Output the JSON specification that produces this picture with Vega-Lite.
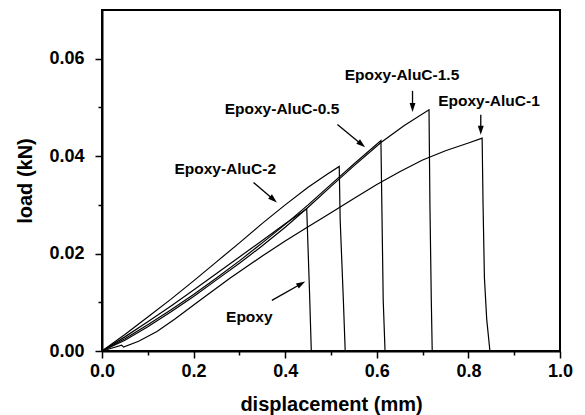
{
  "$schema": "https://vega.github.io/schema/vega-lite/v6.json",
  "width": 458,
  "height": 341,
  "autosize": "none",
  "padding": {"left": 102, "top": 10, "right": 25, "bottom": 64},
  "background": "white",
  "config": {
    "font": "Liberation Sans",
    "view": {"stroke": "black", "strokeWidth": 2},
    "axis": {
      "grid": false,
      "domainColor": "black",
      "domainWidth": 2,
      "tickColor": "black",
      "tickWidth": 1.5,
      "labelColor": "black",
      "titleColor": "black",
      "labelFont": "Liberation Sans",
      "titleFont": "Liberation Sans",
      "labelFontWeight": "bold",
      "titleFontWeight": "bold"
    }
  },
  "datasets": {
    "curves": [
      {"sample": "Epoxy", "displacement": 0, "load": 0},
      {"sample": "Epoxy", "displacement": 0.05, "load": 0.0029},
      {"sample": "Epoxy", "displacement": 0.1, "load": 0.006},
      {"sample": "Epoxy", "displacement": 0.15, "load": 0.0092},
      {"sample": "Epoxy", "displacement": 0.2, "load": 0.0125},
      {"sample": "Epoxy", "displacement": 0.25, "load": 0.0159},
      {"sample": "Epoxy", "displacement": 0.3, "load": 0.0193},
      {"sample": "Epoxy", "displacement": 0.35, "load": 0.0227},
      {"sample": "Epoxy", "displacement": 0.4, "load": 0.0261},
      {"sample": "Epoxy", "displacement": 0.447, "load": 0.0292},
      {"sample": "Epoxy", "displacement": 0.453, "load": 0.0124},
      {"sample": "Epoxy", "displacement": 0.457, "load": 0},

      {"sample": "Epoxy-AluC-2", "displacement": 0, "load": 0},
      {"sample": "Epoxy-AluC-2", "displacement": 0.05, "load": 0.0034},
      {"sample": "Epoxy-AluC-2", "displacement": 0.1, "load": 0.007},
      {"sample": "Epoxy-AluC-2", "displacement": 0.15, "load": 0.0106},
      {"sample": "Epoxy-AluC-2", "displacement": 0.2, "load": 0.0144},
      {"sample": "Epoxy-AluC-2", "displacement": 0.25, "load": 0.0183},
      {"sample": "Epoxy-AluC-2", "displacement": 0.3, "load": 0.0222},
      {"sample": "Epoxy-AluC-2", "displacement": 0.35, "load": 0.0262},
      {"sample": "Epoxy-AluC-2", "displacement": 0.4, "load": 0.03},
      {"sample": "Epoxy-AluC-2", "displacement": 0.45, "load": 0.0336},
      {"sample": "Epoxy-AluC-2", "displacement": 0.49, "load": 0.0362},
      {"sample": "Epoxy-AluC-2", "displacement": 0.518, "load": 0.0379},
      {"sample": "Epoxy-AluC-2", "displacement": 0.52, "load": 0.027},
      {"sample": "Epoxy-AluC-2", "displacement": 0.527, "load": 0.0104},
      {"sample": "Epoxy-AluC-2", "displacement": 0.531, "load": 0},

      {"sample": "Epoxy-AluC-0.5", "displacement": 0, "load": 0},
      {"sample": "Epoxy-AluC-0.5", "displacement": 0.05, "load": 0.0025},
      {"sample": "Epoxy-AluC-0.5", "displacement": 0.1, "load": 0.0054},
      {"sample": "Epoxy-AluC-0.5", "displacement": 0.15, "load": 0.0084},
      {"sample": "Epoxy-AluC-0.5", "displacement": 0.2, "load": 0.0116},
      {"sample": "Epoxy-AluC-0.5", "displacement": 0.25, "load": 0.015},
      {"sample": "Epoxy-AluC-0.5", "displacement": 0.3, "load": 0.0185},
      {"sample": "Epoxy-AluC-0.5", "displacement": 0.35, "load": 0.0222},
      {"sample": "Epoxy-AluC-0.5", "displacement": 0.4, "load": 0.026},
      {"sample": "Epoxy-AluC-0.5", "displacement": 0.45, "load": 0.03},
      {"sample": "Epoxy-AluC-0.5", "displacement": 0.5, "load": 0.0342},
      {"sample": "Epoxy-AluC-0.5", "displacement": 0.55, "load": 0.0384},
      {"sample": "Epoxy-AluC-0.5", "displacement": 0.609, "load": 0.0432},
      {"sample": "Epoxy-AluC-0.5", "displacement": 0.614, "load": 0.0104},
      {"sample": "Epoxy-AluC-0.5", "displacement": 0.618, "load": 0},

      {"sample": "Epoxy-AluC-1.5", "displacement": 0, "load": 0},
      {"sample": "Epoxy-AluC-1.5", "displacement": 0.05, "load": 0.0022},
      {"sample": "Epoxy-AluC-1.5", "displacement": 0.1, "load": 0.005},
      {"sample": "Epoxy-AluC-1.5", "displacement": 0.15, "load": 0.008},
      {"sample": "Epoxy-AluC-1.5", "displacement": 0.2, "load": 0.0112},
      {"sample": "Epoxy-AluC-1.5", "displacement": 0.25, "load": 0.0146},
      {"sample": "Epoxy-AluC-1.5", "displacement": 0.3, "load": 0.018},
      {"sample": "Epoxy-AluC-1.5", "displacement": 0.35, "load": 0.0216},
      {"sample": "Epoxy-AluC-1.5", "displacement": 0.4, "load": 0.0254},
      {"sample": "Epoxy-AluC-1.5", "displacement": 0.45, "load": 0.0295},
      {"sample": "Epoxy-AluC-1.5", "displacement": 0.5, "load": 0.0338},
      {"sample": "Epoxy-AluC-1.5", "displacement": 0.55, "load": 0.038},
      {"sample": "Epoxy-AluC-1.5", "displacement": 0.609, "load": 0.0428},
      {"sample": "Epoxy-AluC-1.5", "displacement": 0.66, "load": 0.0463},
      {"sample": "Epoxy-AluC-1.5", "displacement": 0.714, "load": 0.0495},
      {"sample": "Epoxy-AluC-1.5", "displacement": 0.716, "load": 0.03},
      {"sample": "Epoxy-AluC-1.5", "displacement": 0.719, "load": 0.0104},
      {"sample": "Epoxy-AluC-1.5", "displacement": 0.721, "load": 0},

      {"sample": "Epoxy-AluC-1", "displacement": 0, "load": 0},
      {"sample": "Epoxy-AluC-1", "displacement": 0.043, "load": 0.0012},
      {"sample": "Epoxy-AluC-1", "displacement": 0.047, "load": 0.0008},
      {"sample": "Epoxy-AluC-1", "displacement": 0.08, "load": 0.002},
      {"sample": "Epoxy-AluC-1", "displacement": 0.12, "load": 0.004},
      {"sample": "Epoxy-AluC-1", "displacement": 0.16, "load": 0.0066},
      {"sample": "Epoxy-AluC-1", "displacement": 0.214, "load": 0.0104},
      {"sample": "Epoxy-AluC-1", "displacement": 0.28, "load": 0.015},
      {"sample": "Epoxy-AluC-1", "displacement": 0.35, "load": 0.0195},
      {"sample": "Epoxy-AluC-1", "displacement": 0.4, "load": 0.0226},
      {"sample": "Epoxy-AluC-1", "displacement": 0.45, "load": 0.0255},
      {"sample": "Epoxy-AluC-1", "displacement": 0.5, "load": 0.0284},
      {"sample": "Epoxy-AluC-1", "displacement": 0.55, "load": 0.0313},
      {"sample": "Epoxy-AluC-1", "displacement": 0.6, "load": 0.0342},
      {"sample": "Epoxy-AluC-1", "displacement": 0.65, "load": 0.0368},
      {"sample": "Epoxy-AluC-1", "displacement": 0.7, "load": 0.0392},
      {"sample": "Epoxy-AluC-1", "displacement": 0.75, "load": 0.0411},
      {"sample": "Epoxy-AluC-1", "displacement": 0.8, "load": 0.0427},
      {"sample": "Epoxy-AluC-1", "displacement": 0.83, "load": 0.0437},
      {"sample": "Epoxy-AluC-1", "displacement": 0.832, "load": 0.03},
      {"sample": "Epoxy-AluC-1", "displacement": 0.835, "load": 0.015},
      {"sample": "Epoxy-AluC-1", "displacement": 0.84, "load": 0.0065},
      {"sample": "Epoxy-AluC-1", "displacement": 0.847, "load": 0}
    ],
    "notes": [
      {"label": "Epoxy-AluC-1.5", "x": 0.655, "y": 0.0567},
      {"label": "Epoxy-AluC-1", "x": 0.845, "y": 0.0514},
      {"label": "Epoxy-AluC-0.5", "x": 0.393, "y": 0.0496},
      {"label": "Epoxy-AluC-2", "x": 0.269, "y": 0.0374},
      {"label": "Epoxy", "x": 0.3216, "y": 0.007}
    ],
    "arrows": [
      {"label": "Epoxy-AluC-1.5", "x0": 0.678, "y0": 0.0534, "x1": 0.678, "y1": 0.05, "angle": 180},
      {"label": "Epoxy-AluC-1", "x0": 0.827, "y0": 0.0485, "x1": 0.827, "y1": 0.0453, "angle": 180},
      {"label": "Epoxy-AluC-0.5", "x0": 0.514, "y0": 0.0465, "x1": 0.5669, "y1": 0.0424, "angle": 129.3},
      {"label": "Epoxy-AluC-2", "x0": 0.3308, "y0": 0.0346, "x1": 0.3744, "y1": 0.0311, "angle": 130.5},
      {"label": "Epoxy", "x0": 0.3709, "y0": 0.0104, "x1": 0.4351, "y1": 0.0138, "angle": 60.3}
    ]
  },
  "resolve": {"axis": {"x": "independent", "y": "independent"}},
  "layer": [
    {
      "data": {"name": "curves"},
      "mark": {"type": "line", "stroke": "black", "strokeWidth": 1.2, "strokeJoin": "miter"},
      "encoding": {
        "x": {
          "field": "displacement", "type": "quantitative",
          "scale": {"domain": [0, 1], "nice": false, "zero": false},
          "axis": {
            "orient": "bottom",
            "values": [0, 0.2, 0.4, 0.6, 0.8, 1.0],
            "format": ".1f",
            "tickSize": 7,
            "labelFontSize": 18,
            "labelPadding": 4,
            "labelFlush": false,
            "title": "displacement (mm)",
            "titleFontSize": 20,
            "titleBaseline": "alphabetic",
            "titleAnchor": "middle",
            "titleX": 229,
            "titleY": 59
          }
        },
        "y": {
          "field": "load", "type": "quantitative",
          "scale": {"domain": [0, 0.07], "nice": false, "zero": false},
          "axis": {
            "orient": "left",
            "values": [0, 0.02, 0.04, 0.06],
            "format": ".2f",
            "tickSize": 7,
            "labelFontSize": 18,
            "labelPadding": 11,
            "labelFlush": false,
            "title": "load (kN)",
            "titleFontSize": 20,
            "titleAngle": -90,
            "titleAlign": "center",
            "titleBaseline": "middle",
            "titleX": -77,
            "titleY": 170.5
          }
        },
        "detail": {"field": "sample"}
      }
    },
    {
      "data": {"name": "curves"},
      "mark": {"type": "point", "opacity": 0},
      "encoding": {
        "x": {
          "field": "displacement", "type": "quantitative",
          "scale": {"domain": [0, 1], "nice": false, "zero": false},
          "axis": {
            "orient": "bottom",
            "values": [0.1, 0.3, 0.5, 0.7, 0.9],
            "tickSize": 4,
            "labels": false,
            "domain": false,
            "title": null
          }
        },
        "y": {
          "field": "load", "type": "quantitative",
          "scale": {"domain": [0, 0.07], "nice": false, "zero": false},
          "axis": {
            "orient": "left",
            "values": [0.01, 0.03, 0.05],
            "tickSize": 4,
            "labels": false,
            "domain": false,
            "title": null
          }
        }
      }
    },
    {
      "data": {"name": "arrows"},
      "mark": {"type": "rule", "stroke": "black", "strokeWidth": 1.3},
      "encoding": {
        "x": {"field": "x0", "type": "quantitative", "scale": {"domain": [0, 1], "nice": false, "zero": false}, "axis": null},
        "y": {"field": "y0", "type": "quantitative", "scale": {"domain": [0, 0.07], "nice": false, "zero": false}, "axis": null},
        "x2": {"field": "x1"},
        "y2": {"field": "y1"}
      }
    },
    {
      "data": {"name": "arrows"},
      "mark": {"type": "point", "shape": "M0,-1L0.65,1L-0.65,1Z", "filled": true, "fill": "black", "opacity": 1, "size": 81, "strokeWidth": 0},
      "encoding": {
        "x": {"field": "x1", "type": "quantitative", "scale": {"domain": [0, 1], "nice": false, "zero": false}, "axis": null},
        "y": {"field": "y1", "type": "quantitative", "scale": {"domain": [0, 0.07], "nice": false, "zero": false}, "axis": null},
        "angle": {"field": "angle", "type": "quantitative", "scale": null}
      }
    },
    {
      "data": {"name": "notes"},
      "mark": {"type": "text", "font": "Liberation Sans", "fontWeight": "bold", "fontSize": 15.5, "align": "center", "baseline": "middle", "color": "black"},
      "encoding": {
        "x": {"field": "x", "type": "quantitative", "scale": {"domain": [0, 1], "nice": false, "zero": false}, "axis": null},
        "y": {"field": "y", "type": "quantitative", "scale": {"domain": [0, 0.07], "nice": false, "zero": false}, "axis": null},
        "text": {"field": "label"}
      }
    }
  ]
}
